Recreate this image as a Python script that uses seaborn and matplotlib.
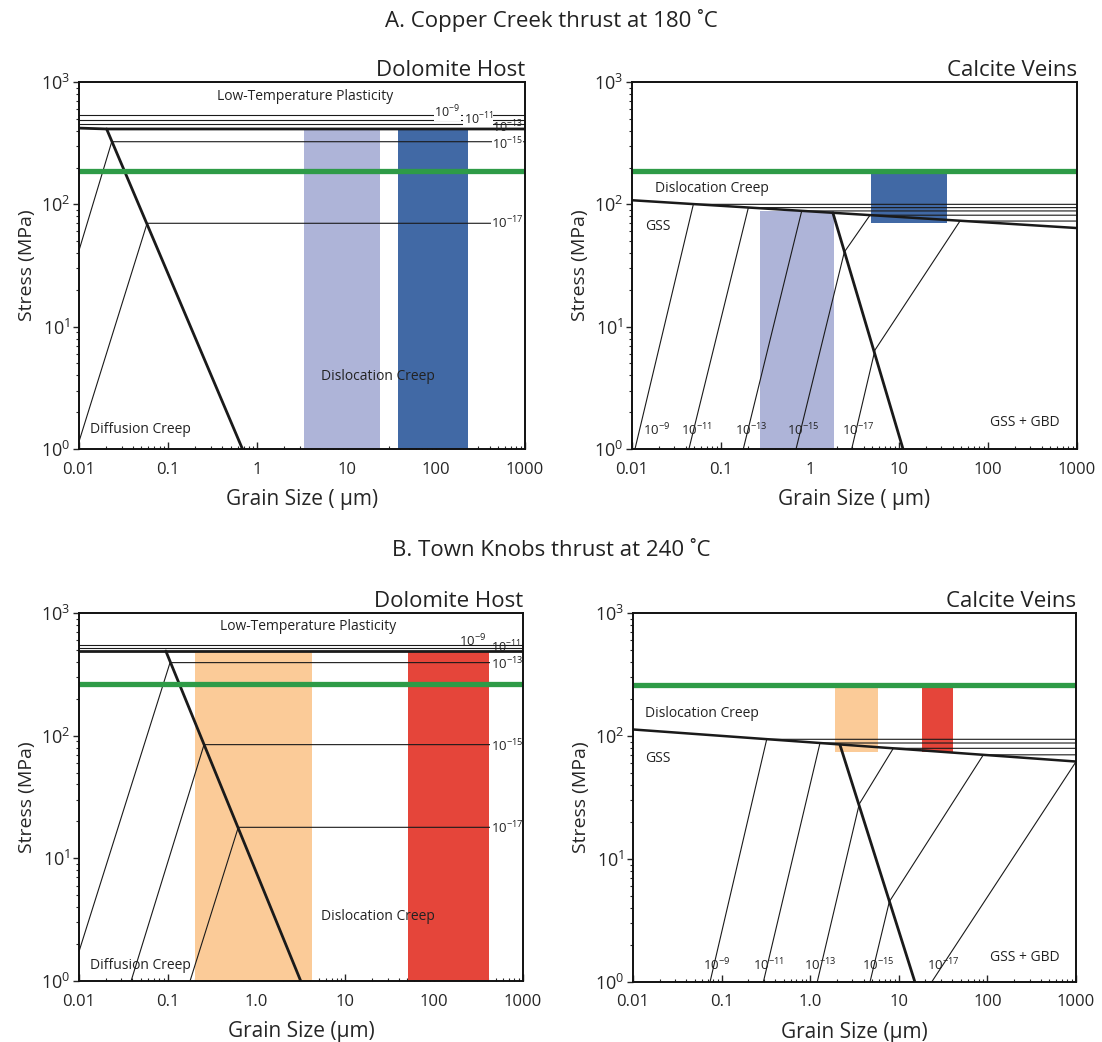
import numpy as np
import pandas as pd
import matplotlib
matplotlib.use("Agg")
import matplotlib.pyplot as plt
import seaborn as sns
from matplotlib.ticker import LogLocator, NullFormatter, FixedLocator, FixedFormatter

sns.set_theme(style="white")
plt.rcParams['font.family'] = ['Open Sans', 'DejaVu Sans']
plt.rcParams['mathtext.fontset'] = 'custom'
plt.rcParams['mathtext.rm'] = 'Open Sans'
plt.rcParams['mathtext.it'] = 'Open Sans:italic'
plt.rcParams['mathtext.bf'] = 'Open Sans:bold'

NARROW = ['Liberation Sans Narrow', 'Open Sans', 'DejaVu Sans']

# ---------------- data ----------------
# Panel A  (Copper Creek thrust, 180 C)
a_green = 188
# dolomite host
a_dol_bound_x = [0.01, 0.0204, 1000]
a_dol_bound_y = [420, 413, 413]
a_dol_diag_x = [0.0204, 0.68]
a_dol_diag_y = [413, 1]
a_dol_ltp_y = [537, 490, 453]            # 1e-9, 1e-11, 1e-13 s^-1
a_dol_r15_x = [0.01, 0.0233, 1000]
a_dol_r15_y = [42, 325, 325]
a_dol_r17_x = [0.01, 0.058, 1000]
a_dol_r17_y = [1.15, 70, 70]
a_dol_bar_light = [3.36, 23.7]
a_dol_bar_dark = [37.4, 229]
a_dol_bar_top = 413
# calcite veins
a_cal_bound_x = [0.01, 1000]
a_cal_bound_y = [108, 64]
a_cal_gbd_x = [1.81, 11.1]
a_cal_gbd_y = [85, 1]
a_cal_r9_x = [0.0108, 0.0489, 1000]
a_cal_r9_y = [1, 100, 100]
a_cal_r11_x = [0.0436, 0.203, 1000]
a_cal_r11_y = [1, 94, 94]
a_cal_r13_x = [0.178, 0.807, 1000]
a_cal_r13_y = [1, 88.3, 88.3]
a_cal_r15_x = [0.697, 2.43, 4.72, 1000]
a_cal_r15_y = [1, 40.7, 81.5, 81.5]
a_cal_r17_x = [2.94, 5.37, 48.4, 1000]
a_cal_r17_y = [1, 6.44, 73, 73]
a_cal_box_light = [0.274, 1.87, 1, 88.7]     # x0, x1, y0, y1
a_cal_box_dark = [4.8, 34.4, 70, 179]

# Panel B  (Town Knobs thrust, 240 C)
b_green = 262
# dolomite host
b_dol_bound_x = [0.01, 0.095, 1000]
b_dol_bound_y = [490, 490, 490]
b_dol_diag_x = [0.095, 3.14]
b_dol_diag_y = [490, 1]
b_dol_ltp_y = [548, 515]                 # 1e-9, 1e-11 s^-1
b_dol_r13_x = [0.01, 0.106, 1000]
b_dol_r13_y = [1.74, 394, 394]
b_dol_r15_x = [0.0386, 0.256, 1000]
b_dol_r15_y = [1, 84.5, 84.5]
b_dol_r17_x = [0.178, 0.622, 1000]
b_dol_r17_y = [1, 17.9, 17.9]
b_dol_bar_light = [0.2, 4.24]
b_dol_bar_dark = [51, 417]
b_dol_bar_top = 490
# calcite veins
b_cal_bound_x = [0.01, 1000]
b_cal_bound_y = [113, 62]
b_cal_gbd_x = [2.17, 15.2]
b_cal_gbd_y = [84.5, 1]
b_cal_r9_x = [0.074, 0.323, 1000]
b_cal_r9_y = [1, 94, 94]
b_cal_r11_x = [0.296, 1.29, 1000]
b_cal_r11_y = [1, 87.7, 87.7]
b_cal_r13_x = [1.2, 3.58, 8.67, 1000]
b_cal_r13_y = [1, 28, 79.4, 79.4]
b_cal_r15_x = [4.73, 7.82, 90, 1000]
b_cal_r15_y = [1, 4.5, 70.3, 70.3]
b_cal_r17_x = [23.5, 1000]
b_cal_r17_y = [1, 61.8]
b_cal_box_light = [1.9, 5.78, 73.6, 255]
b_cal_box_dark = [18.1, 41.2, 74, 255]

rate_labels = [r'$10^{-9}$', r'$10^{-11}$', r'$10^{-13}$', r'$10^{-15}$', r'$10^{-17}$']
x_ticks = [0.01, 0.1, 1, 10, 100, 1000]
x_labels_a = ['0.01', '0.1', '1', '10', '100', '1000']
x_labels_b = ['0.01', '0.1', '1.0', '10', '100', '1000']

# ---------------- colours ----------------
C_LIGHT_BLUE = '#AEB4D8'
C_DARK_BLUE = '#4169A5'
C_LIGHT_OR = '#FBCB98'
C_RED = '#E5453A'
C_GREEN = '#2E9B47'
C_LINE = '#1a1a1a'

W, H = 1102, 1042
fig = plt.figure(figsize=(W / 100, H / 100), dpi=100)


def axes_px(l, r, t, b):
    return fig.add_axes([l / W, 1 - b / H, (r - l) / W, (b - t) / H])


def line(ax, xs, ys, lw=0.8, color=C_LINE):
    df = pd.DataFrame({'x': xs, 'y': ys})
    sns.lineplot(data=df, x='x', y='y', ax=ax, sort=False, estimator=None,
                 color=color, lw=lw, zorder=3)


def style(ax, xlabels, xlab):
    ax.set_xscale('log')
    ax.set_yscale('log')
    ax.set_xlim(0.01, 1000)
    ax.set_ylim(1, 1000)
    for s in ax.spines.values():
        s.set_visible(True)
        s.set_linewidth(1.4)
        s.set_color('#111111')
        s.set_zorder(6)
    ax.xaxis.set_major_locator(FixedLocator(x_ticks))
    ax.xaxis.set_major_formatter(FixedFormatter(xlabels))
    ax.xaxis.set_minor_locator(LogLocator(base=10, subs=np.arange(2, 10), numticks=20))
    ax.xaxis.set_minor_formatter(NullFormatter())
    ax.yaxis.set_major_locator(FixedLocator([1, 10, 100, 1000]))
    ax.yaxis.set_minor_locator(LogLocator(base=10, subs=np.arange(2, 10), numticks=20))
    ax.yaxis.set_minor_formatter(NullFormatter())
    ax.tick_params(axis='x', which='major', direction='in', length=5, width=1, pad=9,
                   labelsize=12, bottom=True, top=False)
    ax.tick_params(axis='x', which='minor', direction='in', length=2.5, width=0.8,
                   bottom=True, top=False)
    ax.tick_params(axis='y', which='major', direction='out', length=4, width=1, pad=2,
                   labelsize=13, left=True, right=False)
    ax.tick_params(axis='y', which='minor', direction='out', length=2, width=0.8,
                   left=True, right=False)
    for t in ax.get_xticklabels():
        t.set_family(NARROW)
    ax.set_xlabel(xlab, fontsize=15, family=NARROW, labelpad=8)
    ax.set_ylabel('Stress (MPa)', fontsize=14, labelpad=4)


def rate_text(ax, x, y, s, ha='center', bg=True, size=9.5):
    kw = dict(bbox=dict(fc='white', ec='none', pad=0.2)) if bg else {}
    ax.text(x, y, s, fontsize=size, ha=ha, va='center', zorder=5, color='#222222', **kw)


def label(ax, x, y, s, ha='center', size=10):
    ax.text(x, y, s, fontsize=size, ha=ha, va='center', zorder=5, color='#222222')


def bar(ax, x0, x1, y0, y1, color):
    ax.fill_between([x0, x1], [y0, y0], [y1, y1], color=color, lw=0, zorder=1)


# ======== A. dolomite ========
ax = axes_px(79, 525, 82, 449)
style(ax, x_labels_a, 'Grain Size ( µm)')
bar(ax, *a_dol_bar_light, 1, a_dol_bar_top, C_LIGHT_BLUE)
bar(ax, *a_dol_bar_dark, 1, a_dol_bar_top, C_DARK_BLUE)
for yv in a_dol_ltp_y:
    line(ax, [0.01, 1000], [yv, yv], lw=0.8)
line(ax, a_dol_r15_x, a_dol_r15_y)
line(ax, a_dol_r17_x, a_dol_r17_y)
ax.axhline(a_green, color=C_GREEN, lw=3.8, zorder=4)
line(ax, a_dol_bound_x, a_dol_bound_y, lw=2)
line(ax, a_dol_diag_x, a_dol_diag_y, lw=2)
rate_text(ax, 135, 569, rate_labels[0], size=9)
rate_text(ax, 300, 500, rate_labels[1], size=9)
rate_text(ax, 640, 432, rate_labels[2], bg=False, size=9)
rate_text(ax, 640, 310, rate_labels[3], size=9)
rate_text(ax, 640, 71, rate_labels[4])
label(ax, 3.42, 759, 'Low-Temperature Plasticity')
label(ax, 22.5, 3.94, 'Dislocation Creep')
label(ax, 0.0483, 1.43, 'Diffusion Creep')
ax.set_title('Dolomite Host', loc='right', fontsize=16, pad=4, color='#222222')

# ======== A. calcite ========
ax = axes_px(632, 1077, 82, 449)
style(ax, x_labels_a, 'Grain Size ( µm)')
bar(ax, *a_cal_box_light, C_LIGHT_BLUE)
bar(ax, *a_cal_box_dark, C_DARK_BLUE)
for xs, ys in [(a_cal_r9_x, a_cal_r9_y), (a_cal_r11_x, a_cal_r11_y),
               (a_cal_r13_x, a_cal_r13_y), (a_cal_r15_x, a_cal_r15_y),
               (a_cal_r17_x, a_cal_r17_y)]:
    line(ax, xs, ys)
ax.axhline(a_green, color=C_GREEN, lw=3.8, zorder=4)
line(ax, a_cal_bound_x, a_cal_bound_y, lw=1.8)
line(ax, a_cal_gbd_x, a_cal_gbd_y, lw=2)
for xv, s in zip([0.019, 0.0533, 0.221, 0.834, 3.49], rate_labels):
    rate_text(ax, xv, 1.43, s, bg=False)
label(ax, 260, 1.64, 'GSS + GBD')
label(ax, 0.018, 135, 'Dislocation Creep', ha='left')
label(ax, 0.014, 65.6, 'GSS', ha='left')
ax.set_title('Calcite Veins', loc='right', fontsize=16, pad=4, color='#222222')

# ======== B. dolomite ========
ax = axes_px(79, 523, 613, 981)
style(ax, x_labels_b, 'Grain Size (µm)')
bar(ax, *b_dol_bar_light, 1, b_dol_bar_top, C_LIGHT_OR)
bar(ax, *b_dol_bar_dark, 1, b_dol_bar_top, C_RED)
for yv in b_dol_ltp_y:
    line(ax, [0.01, 1000], [yv, yv], lw=0.8)
line(ax, b_dol_r13_x, b_dol_r13_y)
line(ax, b_dol_r15_x, b_dol_r15_y)
line(ax, b_dol_r17_x, b_dol_r17_y)
ax.axhline(b_green, color=C_GREEN, lw=3.8, zorder=4)
line(ax, b_dol_bound_x, b_dol_bound_y, lw=2)
line(ax, b_dol_diag_x, b_dol_diag_y, lw=2)
rate_text(ax, 270, 588, rate_labels[0], bg=False)
rate_text(ax, 640, 527, rate_labels[1], bg=False, size=9)
rate_text(ax, 660, 382, rate_labels[2])
rate_text(ax, 660, 82.6, rate_labels[3])
rate_text(ax, 660, 17.7, rate_labels[4])
label(ax, 3.8, 769, 'Low-Temperature Plasticity')
label(ax, 23.3, 3.35, 'Dislocation Creep')
label(ax, 0.0487, 1.35, 'Diffusion Creep')
ax.set_title('Dolomite Host', loc='right', fontsize=16, pad=4, color='#222222')

# ======== B. calcite ========
ax = axes_px(633, 1076, 613, 982)
style(ax, x_labels_b, 'Grain Size (µm)')
bar(ax, *b_cal_box_light, C_LIGHT_OR)
bar(ax, *b_cal_box_dark, C_RED)
for xs, ys in [(b_cal_r9_x, b_cal_r9_y), (b_cal_r11_x, b_cal_r11_y),
               (b_cal_r13_x, b_cal_r13_y), (b_cal_r15_x, b_cal_r15_y),
               (b_cal_r17_x, b_cal_r17_y)]:
    line(ax, xs, ys)
ax.axhline(b_green, color=C_GREEN, lw=3.8, zorder=4)
line(ax, b_cal_bound_x, b_cal_bound_y, lw=1.8)
line(ax, b_cal_gbd_x, b_cal_gbd_y, lw=2)
for xv, s in zip([0.088, 0.336, 1.29, 5.82, 31.8], rate_labels):
    rate_text(ax, xv, 1.37, s, bg=False)
label(ax, 266, 1.58, 'GSS + GBD')
label(ax, 0.0136, 153, 'Dislocation Creep', ha='left')
label(ax, 0.0136, 65.9, 'GSS', ha='left')
ax.set_title('Calcite Veins', loc='right', fontsize=16, pad=4, color='#222222')

# section titles
fig.text(551 / W, 1 - 20 / H, 'A. Copper Creek thrust at 180 ˚C', ha='center', va='center',
         fontsize=16, family=NARROW, color='#222222')
fig.text(551 / W, 1 - 550 / H, 'B. Town Knobs thrust at 240 ˚C', ha='center', va='center',
         fontsize=16, family=NARROW, color='#222222')

fig.savefig('out.png', dpi=100, facecolor='white')
